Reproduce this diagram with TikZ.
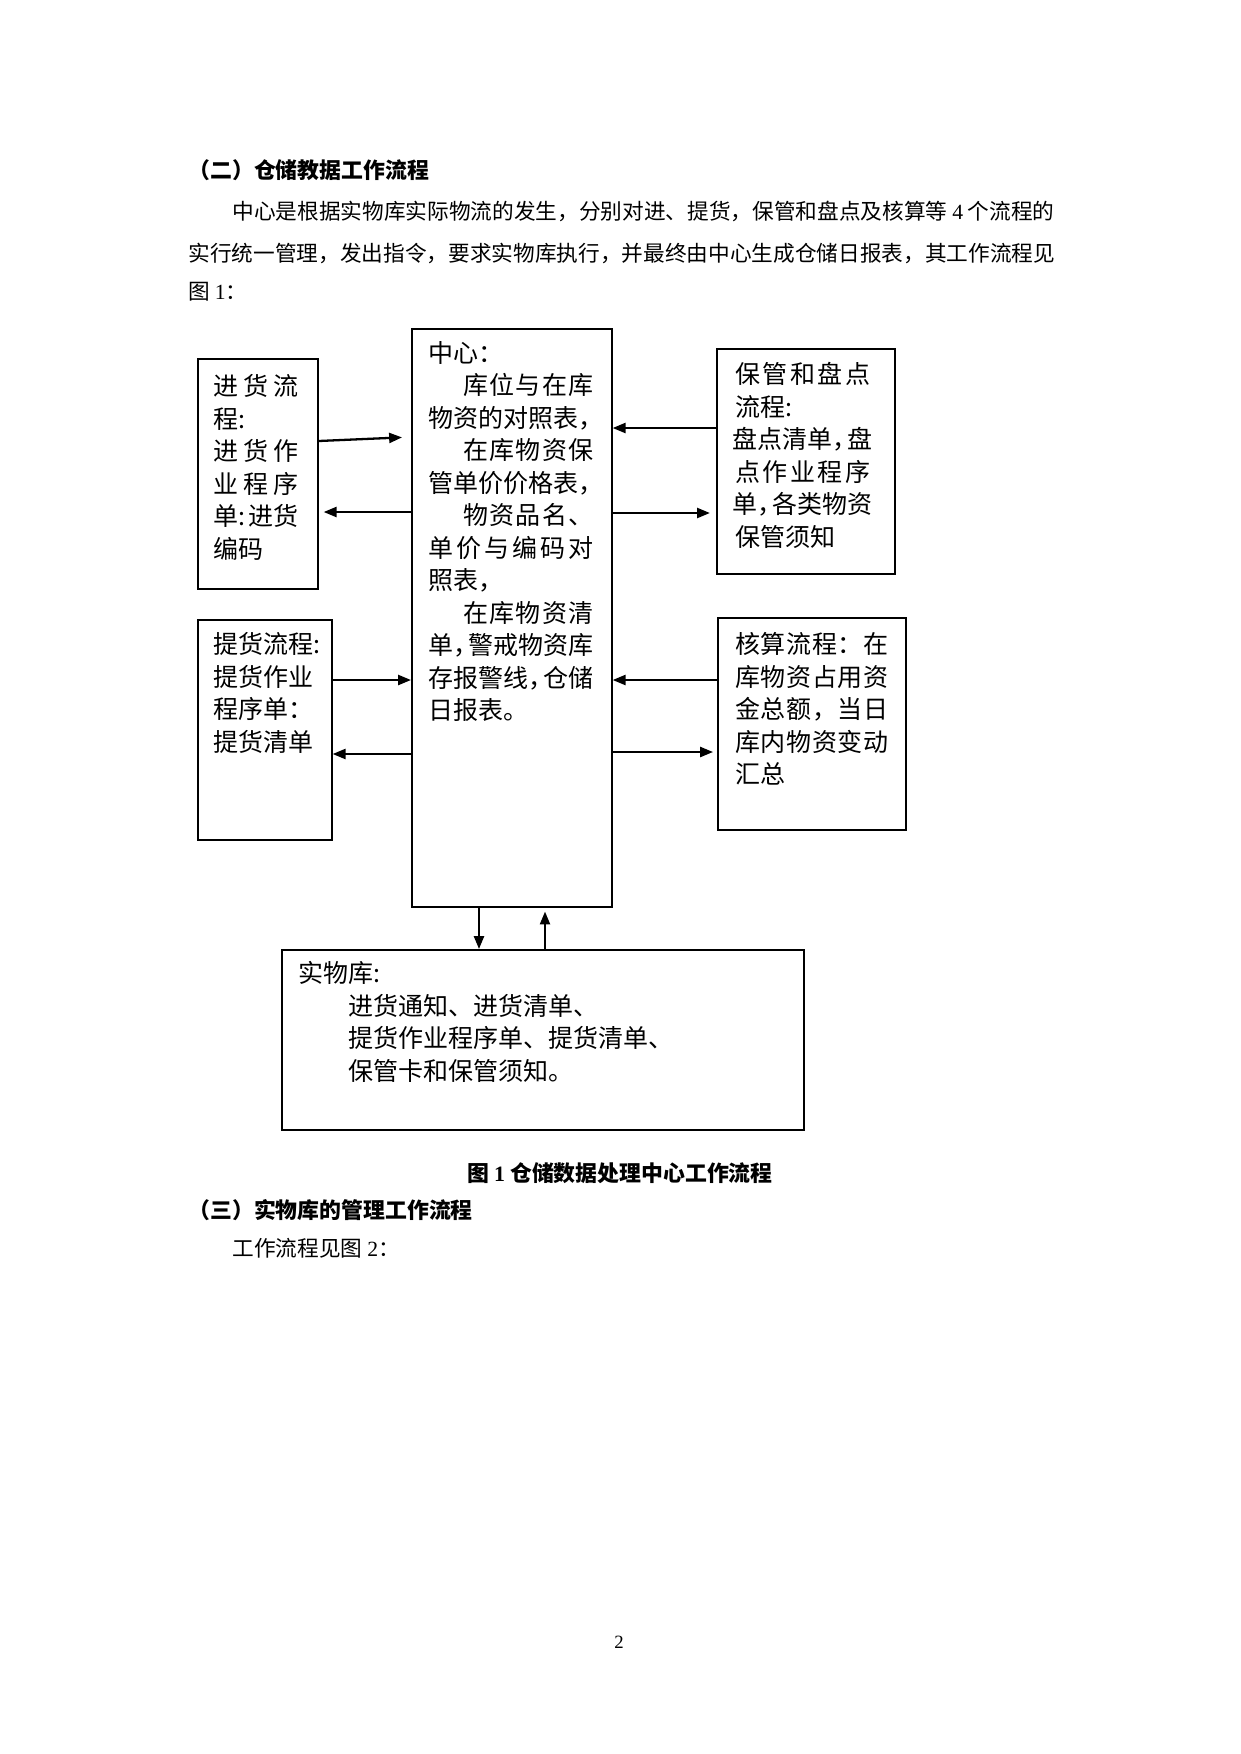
\documentclass[tikz,border=0pt]{standalone}
\usepackage{fontspec}
\setmainfont{Noto Sans CJK SC}
\newfontfamily\latn{Liberation Serif}
\usepackage{tikz}
\usetikzlibrary{arrows.meta, positioning, calc}
\newlength\pxu
\setlength\pxu{0.48pt}
% spread the characters of one line over a width given in px
\def\spr#1#2{#1\ifx\relax#2\else\hfill\expandafter\spr\expandafter#2\fi}
\newcommand\jl[2]{\makebox[#1\pxu]{\spr#2\relax}}
\newcommand\hcomma{\makebox[0.6em][l]{，}}

\begin{document}
\begin{tikzpicture}[x=0.48pt, y=-0.48pt, >={Triangle[length=6.2pt, width=4.8pt]},
  procbox/.style={draw, line width=0.8pt, inner sep=0, anchor=north west},
  boxtext/.style={anchor=north west, inner sep=0, align=left, font=\fontsize{12pt}{15.6pt}\selectfont},
  body/.style={anchor=west, inner sep=0, font=\fontsize{10.4pt}{12pt}\selectfont},
  head/.style={anchor=west, inner sep=0, font=\fontsize{10.5pt}{12pt}\selectfont\bfseries},
  flow/.style={->, line width=1.1pt}]
  \useasboundingbox (0,0) rectangle (1241,1754);
  % text above the figure
  \node[head] (h2) at (188,170) {（二）仓储教据工作流程};
  \node[body] (p1) at (232,211) {中心是根据实物库实际物流的发生，分别对进、提货，保管和盘点及核算等 {\latn 4} 个流程的};
  \node[body] (p2) at (188,253) {实行统一管理，发出指令，要求实物库执行，并最终由中心生成仓储日报表，其工作流程见};
  \node[body] (p3) at (188,292) {图 {\latn 1}：};
  % the boxes
  \node[procbox, minimum width=57.6pt, minimum height=110.4pt] (jh) at (197,358) {};
  \node[procbox, minimum width=96pt, minimum height=277.4pt] (zx) at (411,328) {};
  \node[procbox, minimum width=85.4pt, minimum height=108pt] (bg) at (716,348) {};
  \node[procbox, minimum width=64.3pt, minimum height=105.6pt] (th) at (197,619) {};
  \node[procbox, minimum width=90.2pt, minimum height=101.8pt] (hs) at (717,617) {};
  \node[procbox, minimum width=250.6pt, minimum height=86.4pt] (sw) at (281,949) {};
  % what each box holds
  \node[boxtext] (jht) at (213,374) {\jl{85}{进货流}\\ 程:\\ \jl{85}{进货作}\\ \jl{85}{业程序}\\
    \makebox[85\pxu]{单:\hfill 进货}\\ 编码};
  \node[boxtext] (zxt) at (428,341) {中心：\\
    \hspace*{35\pxu}\jl{130}{库位与在库}\\ 物资的对照表，\\
    \hspace*{35\pxu}\jl{130}{在库物资保}\\ 管单价价格表，\\
    \hspace*{35\pxu}\jl{130}{物资品名、}\\ \jl{165}{单价与编码对}\\ 照表，\\
    \hspace*{35\pxu}\jl{130}{在库物资清}\\ \jl{165}{单\hcomma 警戒物资库}\\
    \jl{165}{存报警线\hcomma 仓储}\\ 日报表。};
  \node[boxtext] (bgt) at (735,362) {\jl{135}{保管和盘点}\\ 流程:\\ \jl{135}{盘点清单\hcomma 盘}\\
    \jl{135}{点作业程序}\\ \jl{135}{单\hcomma 各类物资}\\ 保管须知};
  \node[boxtext] (tht) at (213,632) {提货流程:\\ 提货作业\\ 程序单：\\ 提货清单};
  \node[boxtext] (hst) at (735,632) {\jl{153}{核算流程：在}\\ \jl{153}{库物资占用资}\\
    \jl{153}{金总额，当日}\\ \jl{153}{库内物资变动}\\ 汇总};
  \node[boxtext] (swt) at (298,961) {实物库:\\ \hspace*{50\pxu}进货通知、进货清单、\\
    \hspace*{50\pxu}提货作业程序单、提货清单、\\ \hspace*{50\pxu}保管卡和保管须知。};
  % flows to and from the centre
  \draw[flow, shorten >=4.3pt] (jh.east |- 0,441) -- (zx.west |- 0,437);
  \draw[flow, shorten >=2.4pt] (zx.west |- 0,512) -- (jh.east |- 0,512);
  \draw[flow] (bg.west |- 0,428) -- (zx.east |- 0,428);
  \draw[flow, shorten >=2.9pt] (zx.east |- 0,513) -- (bg.west |- 0,513);
  \draw[flow] (th.east |- 0,680) -- (zx.west |- 0,680);
  \draw[flow] (zx.west |- 0,754) -- (th.east |- 0,754);
  \draw[flow] (hs.west |- 0,680) -- (zx.east |- 0,680);
  \draw[flow, shorten >=1.9pt] (zx.east |- 0,752) -- (hs.west |- 0,752);
  \draw[flow] (zx.south -| 479,0) -- (sw.north -| 479,0);
  \draw[flow, shorten >=1.9pt] (sw.north -| 545,0) -- (zx.south -| 545,0);
  % caption and the text below
  \node[head, anchor=center] (cap) at (620,1173) {图 {\latn\bfseries 1} 仓储数据处理中心工作流程};
  \node[head] (h3) at (188,1210) {（三）实物库的管理工作流程};
  \node[body] (p4) at (232,1248) {工作流程见图 {\latn 2}：};
  \node[font=\fontsize{9pt}{10pt}\selectfont\latn, inner sep=0] (pg) at (619,1642) {2};
\end{tikzpicture}
\end{document}
